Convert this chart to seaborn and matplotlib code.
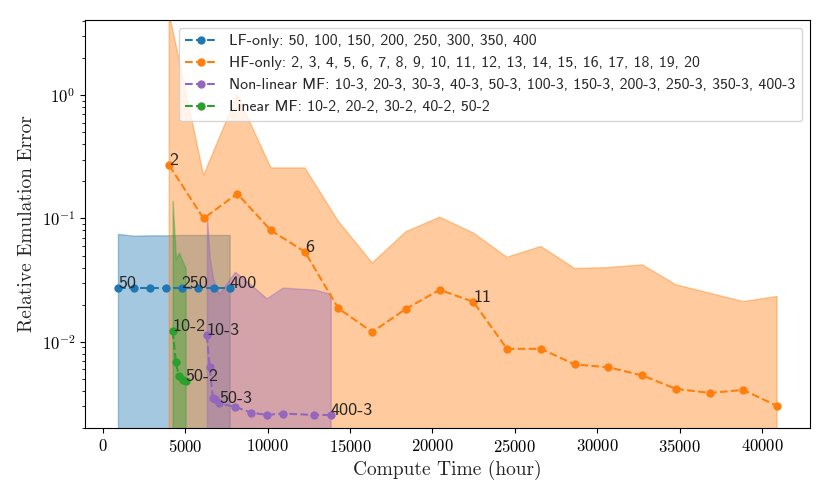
import numpy as np
import matplotlib
matplotlib.use("Agg")
import matplotlib.pyplot as plt
import seaborn as sns

# data
lf_time = [930, 1880, 2870, 3840, 4790, 5760, 6730, 7700]
lf_err = [0.0275, 0.0275, 0.0275, 0.0275, 0.0275, 0.0275, 0.0275, 0.0275]
lf_upper = [0.075, 0.0725, 0.073, 0.073, 0.0735, 0.0735, 0.0735, 0.0735]
lf_names = ["50", "100", "150", "200", "250", "300", "350", "400"]
lf_shown = ["50", "250", "400"]

hf_time = [4040, 6125, 8163, 10206, 12268, 14290, 16350, 18390, 20436, 22475,
           24517, 26579, 28622, 30662, 32725, 34766, 36808, 38846, 40890]
hf_err = [0.269, 0.100, 0.159, 0.080, 0.0536, 0.0187, 0.0120, 0.0185, 0.0264, 0.0211,
          0.00877, 0.00877, 0.00655, 0.00622, 0.00533, 0.00415, 0.00385, 0.00407, 0.00302]
hf_upper = [4.6, 0.224, 1.01, 0.257, 0.257, 0.095, 0.0436, 0.078, 0.1025, 0.0764,
            0.0485, 0.0593, 0.0393, 0.040, 0.0421, 0.029, 0.0248, 0.0212, 0.0233]
hf_names = [str(n) for n in range(2, 21)]
hf_shown = ["2", "6", "11"]

nl_time = [6325, 6490, 6690, 6835, 7071, 8023, 8993, 9945, 10915, 12832, 13826]
nl_err = [0.0113, 0.0062, 0.00347, 0.00342, 0.00316, 0.00297, 0.00267, 0.00255,
          0.00262, 0.00255, 0.00255]
nl_upper = [0.105, 0.048, 0.033, 0.028, 0.0245, 0.037, 0.029, 0.0225, 0.0275, 0.0265, 0.0245]
nl_names = ["10-3", "20-3", "30-3", "40-3", "50-3", "100-3", "150-3", "200-3",
            "250-3", "350-3", "400-3"]
nl_shown = ["10-3", "50-3", "400-3"]

l_time = [4245, 4445, 4627, 4850, 5030]
l_err = [0.0122, 0.0068, 0.00526, 0.0049, 0.00479]
l_upper = [0.139, 0.0466, 0.0527, 0.045, 0.0395]
l_names = ["10-2", "20-2", "30-2", "40-2", "50-2"]
l_shown = ["10-2", "50-2"]

FLOOR = 1e-4

sns.set_style("ticks")
plt.rcParams["font.family"] = ["cmr10"]
plt.rcParams["mathtext.fontset"] = "cm"
plt.rcParams["axes.formatter.use_mathtext"] = True
plt.rcParams["axes.edgecolor"] = "black"
plt.rcParams["xtick.color"] = "black"
plt.rcParams["ytick.color"] = "black"

pal = sns.color_palette("tab10")
series = [
    ("LF-only", lf_time, lf_err, lf_upper, lf_names, lf_shown, pal[0]),
    ("HF-only", hf_time, hf_err, hf_upper, hf_names, hf_shown, pal[1]),
    ("Non-linear MF", nl_time, nl_err, nl_upper, nl_names, nl_shown, pal[4]),
    ("Linear MF", l_time, l_err, l_upper, l_names, l_shown, pal[2]),
]

fig, ax = plt.subplots(figsize=(8.3, 4.98), dpi=100)
fig.subplots_adjust(left=0.1024, right=0.9759, top=0.9598, bottom=0.1406)

for title, t, e, up, names, shown, c in series:
    sns.lineplot(x=t, y=e, ax=ax, color=c, linestyle="--", marker="o",
                 markersize=6, markeredgecolor=c, markeredgewidth=0,
                 label=title + ": " + ", ".join(names))
    ax.fill_between(t, [FLOOR] * len(t), up, color=c, alpha=0.4)
    for name in shown:
        i = names.index(name)
        ax.text(t[i], e[i], name, fontsize=13, family="cmss10")

ax.set_yscale("log")
ax.set_ylim(0.002, 4.07)
ax.set_xlabel("Compute Time (hour)", fontsize=14)
ax.set_ylabel("Relative Emulation Error", fontsize=14)
ax.tick_params(labelsize=12)
ax.legend(loc="upper right", prop={"family": "cmss10", "size": 11.4})

fig.savefig("out.png", dpi=100)
